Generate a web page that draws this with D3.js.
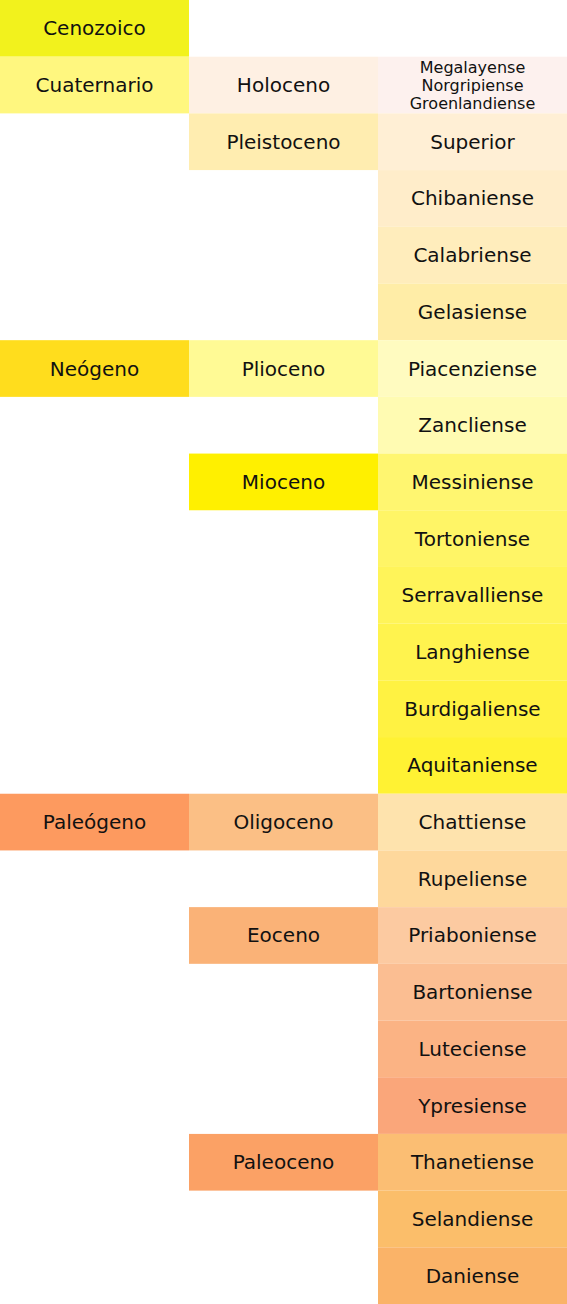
<!DOCTYPE html>
<html><head><meta charset="utf-8">
<script src="https://cdn.jsdelivr.net/npm/d3@7"></script>
<style>body{margin:0;background:#fff}</style>
</head><body><div id="chart"></div>
<script>
// [name, start row, end row (exclusive), colour]
const eras = [["Cenozoico", 0, 1, "#F2F21D"]];
const periods = [
  ["Cuaternario", 1, 2, "#FFF77F"],
  ["Neógeno", 6, 7, "#FFDD1D"],
  ["Paleógeno", 14, 15, "#FD9A5F"]
];
const epochs = [
  ["Holoceno", 1, 2, "#FEF0E3"],
  ["Pleistoceno", 2, 3, "#FFEDB0"],
  ["Plioceno", 6, 7, "#FFFA95"],
  ["Mioceno", 8, 9, "#FFF000"],
  ["Oligoceno", 14, 15, "#FBBF85"],
  ["Eoceno", 16, 17, "#FAB277"],
  ["Paleoceno", 20, 21, "#FBA165"]
];
const stages = [
  ["Megalayense|Norgripiense|Groenlandiense", "#FDF1EE"],
  ["Superior", "#FFEFD5"],
  ["Chibaniense", "#FFEDCA"],
  ["Calabriense", "#FFEDBC"],
  ["Gelasiense", "#FFEDA7"],
  ["Piacenziense", "#FFFBC0"],
  ["Zancliense", "#FFFBB2"],
  ["Messiniense", "#FFF670"],
  ["Tortoniense", "#FFF566"],
  ["Serravalliense", "#FFF459"],
  ["Langhiense", "#FFF34E"],
  ["Burdigaliense", "#FFF242"],
  ["Aquitaniense", "#FFF233"],
  ["Chattiense", "#FEE3AD"],
  ["Rupeliense", "#FED89C"],
  ["Priaboniense", "#FCCAA1"],
  ["Bartoniense", "#FBBE92"],
  ["Luteciense", "#FBB384"],
  ["Ypresiense", "#FAA67A"],
  ["Thanetiense", "#FBBE73"],
  ["Selandiense", "#FBBE6A"],
  ["Daniense", "#FAB368"]
];

const W = 567, H = 1304;
const y = d3.scaleLinear().domain([0, 23]).range([0, H]);
const x = d3.scaleBand().domain([0, 1, 2]).range([0, W]).padding(0);

const svg = d3.select("#chart").append("svg").attr("width", W).attr("height", H)
  .style("font-family", "DejaVu Sans, Verdana, sans-serif");

function column(rows, col) {
  const g = svg.append("g");
  rows.forEach(r => {
    const [name, a, b, c] = r;
    g.append("rect").attr("x", x(col)).attr("y", y(a)).attr("width", x.bandwidth())
      .attr("height", y(b) - y(a)).attr("fill", c);
    const lines = name.split("|");
    const fs = lines.length > 1 ? 16 : 20;
    const lh = lines.length > 1 ? 18 : 0;
    const cy = (y(a) + y(b)) / 2;
    lines.forEach((t, i) => {
      g.append("text").attr("x", x(col) + x.bandwidth() / 2)
        .attr("y", cy + (i - (lines.length - 1) / 2) * lh)
        .attr("dy", "0.35em").attr("text-anchor", "middle")
        .attr("font-size", fs).attr("fill", "#111").text(t);
    });
  });
}
column(eras, 0);
column(periods, 0);
column(epochs, 1);
column(stages.map((s, i) => [s[0], i + 1, i + 2, s[1]]), 2);
</script></body></html>
